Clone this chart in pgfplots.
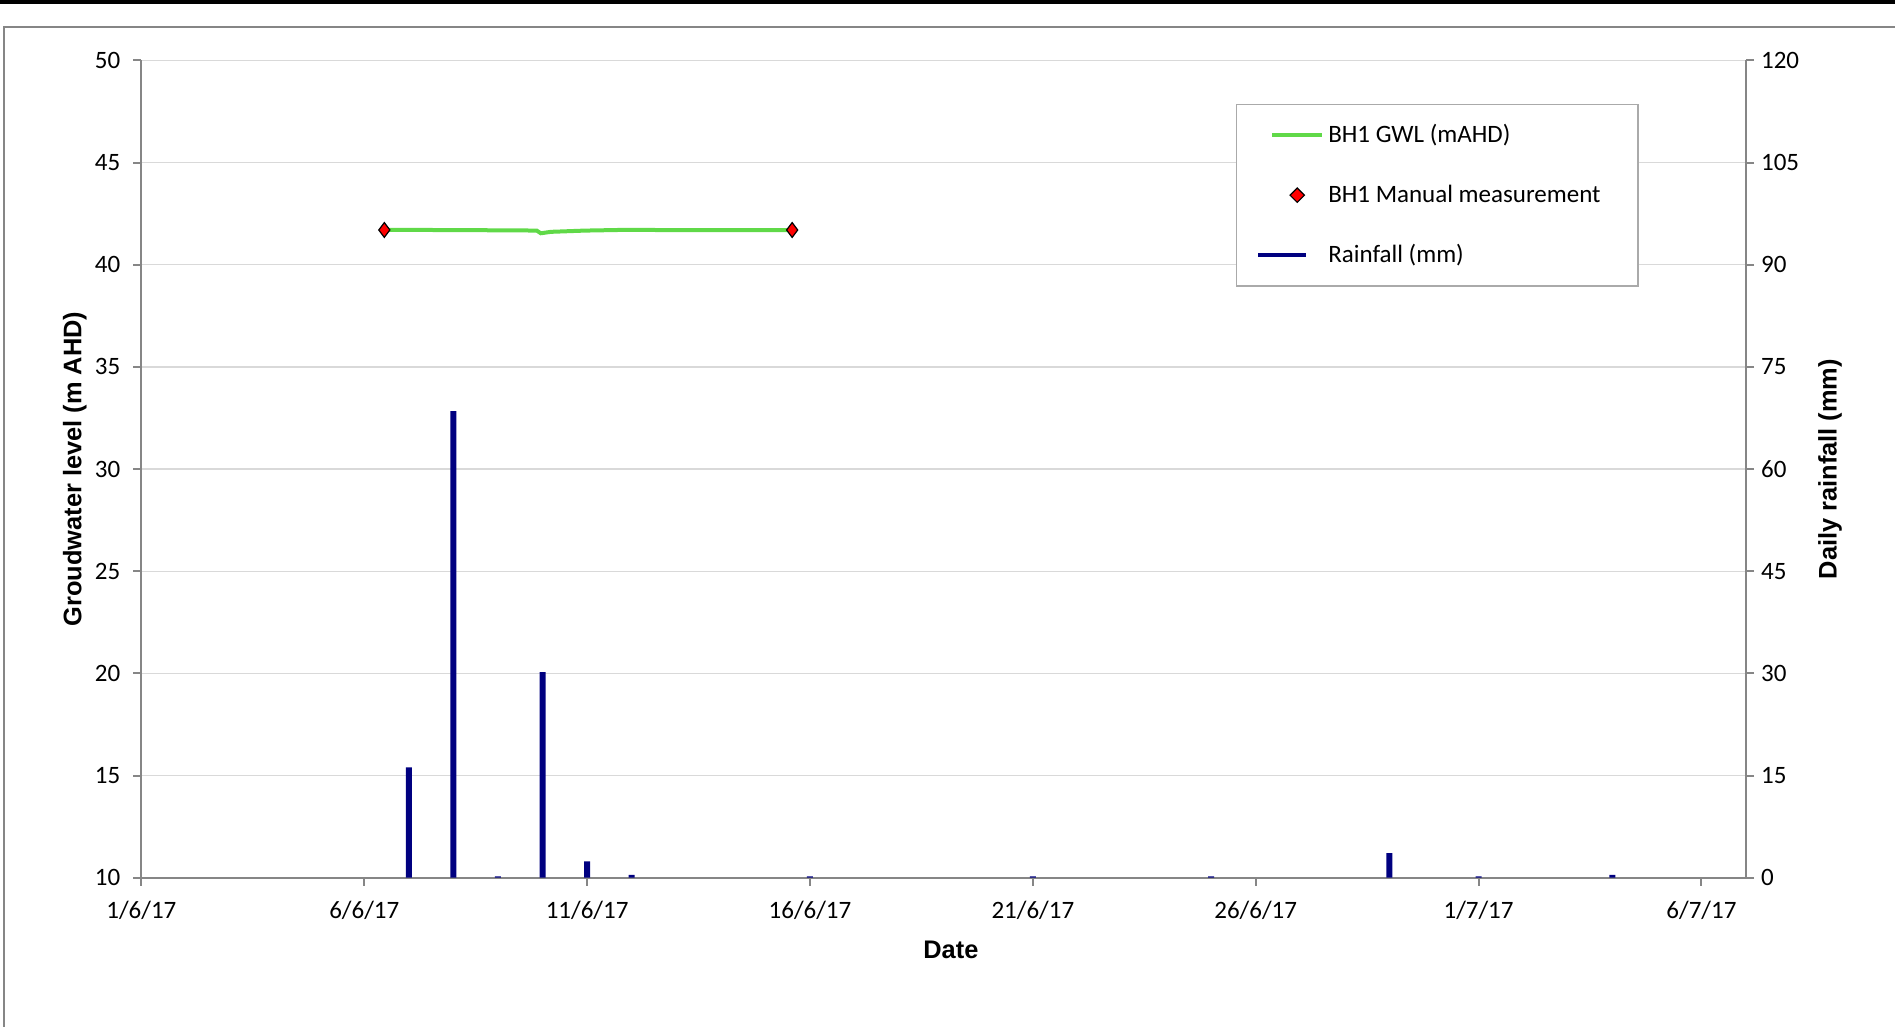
\documentclass[border=0pt]{standalone}
\usepackage{fontspec}
\setmainfont{Carlito}
\newfontfamily\arialf{Liberation Sans}
\usepackage{pgfplots}
\pgfplotsset{compat=1.18}
\definecolor{gwl}{RGB}{96,217,72}
\definecolor{rain}{RGB}{0,0,128}
\definecolor{axgray}{RGB}{134,134,134}
\definecolor{gridgray}{RGB}{217,217,217}
\definecolor{leggray}{RGB}{170,170,170}
\newcommand\labfont{\arialf\bfseries\fontsize{12.7}{14}\selectfont}
\pgfplotsset{common/.style={
  at={(70.7pt,-438.85pt)}, anchor=south west,
  scale only axis, width=802.3pt, height=408.65pt,
  xmin=0, xmax=36,
  tick align=outside, major tick length=4pt,
  tick style={axgray, line width=1pt},
  axis line style={axgray, line width=1pt, -},
  tick label style={font=\fontsize{12.5}{15}\selectfont},
  /pgf/number format/assume math mode=true,
}}
\begin{document}
\begin{tikzpicture}
\useasboundingbox (0,0) rectangle (947.5pt,-513.5pt);
\draw[black, line width=2.25pt] (0,-1.1pt) -- (947.5pt,-1.1pt);
\draw[axgray, line width=1pt] (1.8pt,-520pt) -- (1.8pt,-13.4pt) -- (950pt,-13.4pt);
\begin{axis}[common,
  ymin=10, ymax=50, ytick={10,15,...,50},
  axis y line*=left, axis x line*=bottom,
  ymajorgrids, grid style={gridgray, line width=0.65pt},
  xtick={0,5,...,35},
  xticklabels={1/6/17,6/6/17,11/6/17,16/6/17,21/6/17,26/6/17,1/7/17,6/7/17},
  xticklabel style={yshift=-4pt},
  yticklabel style={xshift=-3pt},
  xlabel={Date}, ylabel={Groudwater level (m AHD)},
  every axis x label/.style={at={(axis description cs:0.5045,-0.0885)}, anchor=center, font=\labfont},
  every axis y label/.style={at={(axis description cs:-0.0415,0.5)}, anchor=center, rotate=90, font=\labfont},
]
\addplot[gwl, line width=2pt] coordinates {
(5.45,41.70) (6.5,41.70) (7.5,41.69) (8.5,41.68) (8.87,41.67) (8.96,41.54)
(9.19,41.61) (9.94,41.67) (10.69,41.70) (11.5,41.70) (12.19,41.69) (13.0,41.69) (14.0,41.69) (14.63,41.70)};
\addplot[only marks, mark=diamond*, mark size=3.7pt, mark options={fill=red, draw=black, line width=0.6pt}] coordinates {(5.45,41.7) (14.6,41.7)};
\end{axis}
\begin{axis}[common,
  ymin=0, ymax=120, ytick={0,15,...,120},
  axis y line*=right, axis x line=none,
  ylabel={Daily rainfall (mm)},
  every axis y label/.style={at={(axis description cs:1.0523,0.5)}, anchor=center, rotate=90, font=\labfont},
  legend style={at={(axis description cs:0.682,0.947)}, anchor=north west,
    draw=leggray, line width=0.8pt, fill=white, inner xsep=10pt, inner ysep=8pt,
    row sep=15.6pt, font=\fontsize{12.5}{15}\selectfont},
  legend cell align=left,
]
\addlegendimage{legend image code/.code={\path[draw=none,fill=none] (0pt,-3pt) rectangle (31pt,3pt); \draw[gwl, line width=2pt, fill=none] (7pt,0pt) -- (32pt,0pt);}}
\addlegendentry{BH1 GWL (mAHD)}
\addlegendimage{legend image code/.code={\path[draw=none,fill=none] (0pt,-3pt) rectangle (31pt,3pt); \draw[fill=red, draw=black, line width=0.6pt] (19.5pt,3.6pt) -- (23.1pt,0pt) -- (19.5pt,-3.6pt) -- (15.9pt,0pt) -- cycle;}}
\addlegendentry{BH1 Manual measurement\hspace{6.6pt}\null}
\addplot[ybar, bar width=3pt, fill=rain, draw=none, legend image code/.code={\path[draw=none,fill=none] (0pt,-3pt) rectangle (31pt,3pt); \draw[rain, line width=1.7pt, fill=none] (0pt,0pt) -- (24pt,0pt);}] coordinates {
(6,16.2) (7,68.5) (8,0.2) (9,30.2) (10,2.4) (11,0.4) (15,0.2) (20,0.2) (24,0.2) (28,3.6) (30,0.2) (33,0.4)};
\addlegendentry{Rainfall (mm)}
\end{axis}
\end{tikzpicture}
\end{document}
